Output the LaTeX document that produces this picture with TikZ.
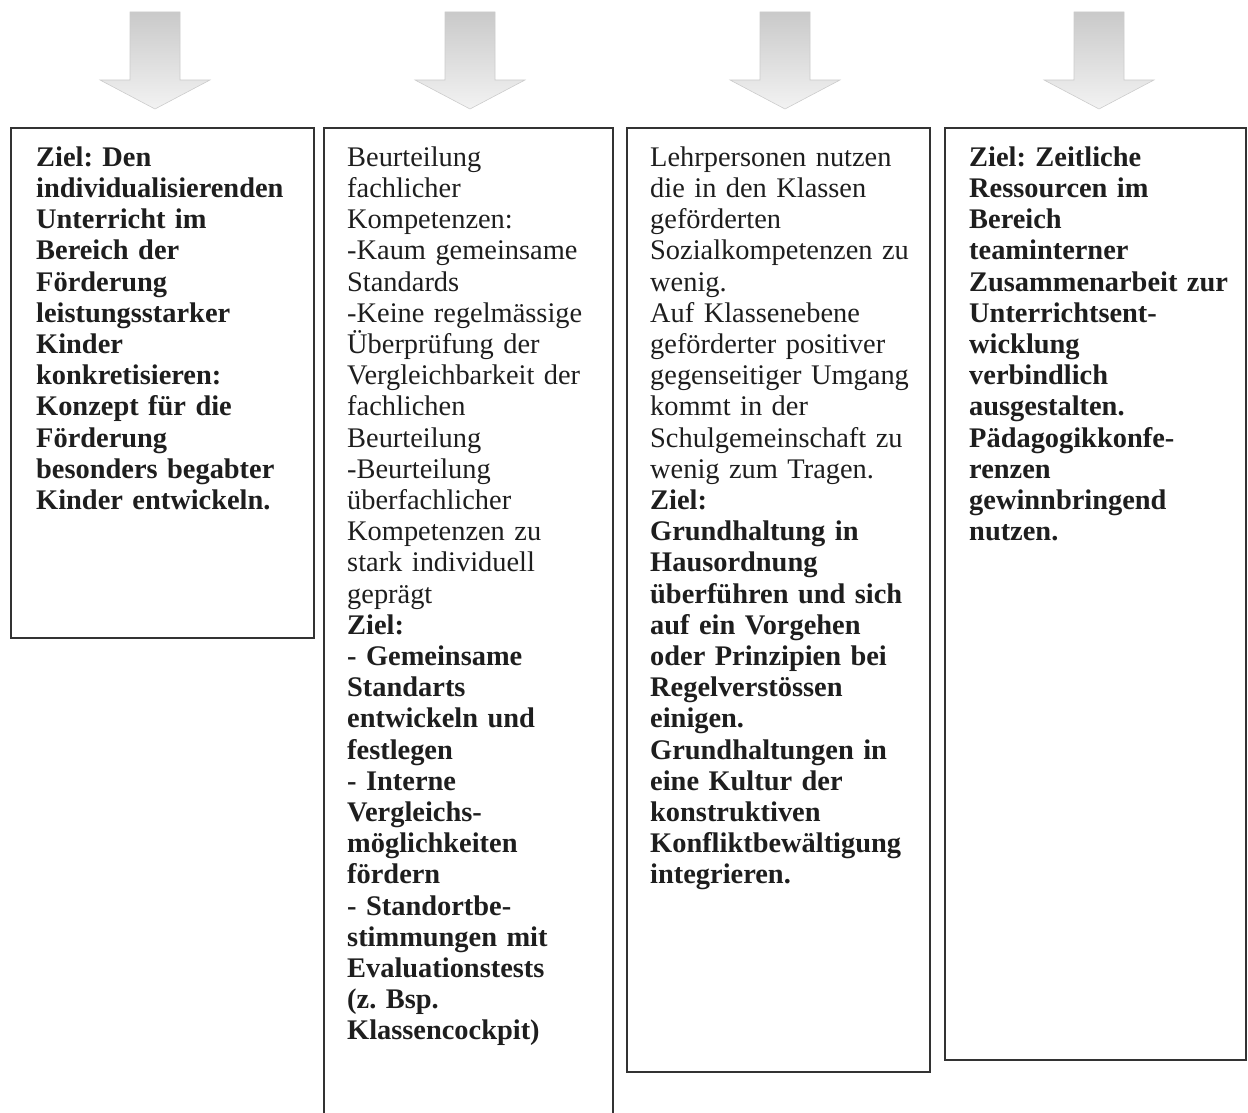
\documentclass[tikz,border=0pt]{standalone}
\usepackage{fontspec}
\setmainfont{Liberation Serif}
\frenchspacing
\definecolor{ink}{HTML}{1E1E1E}
\definecolor{boxline}{HTML}{333333}
\tikzset{
  panel/.style={draw=boxline, line width=1.8pt, inner sep=0pt, anchor=north west, rectangle},
  txt/.style={anchor=north west, inner sep=0pt, align=left, text width=300pt, text=ink,
    font=\fontsize{28.4}{31.2}\selectfont},
  blockarrow/.style={draw=gray!40, line width=0.6pt, top color=gray!42, bottom color=gray!10}
}
\begin{document}
\begin{tikzpicture}[x=1pt,y=-1pt]
\useasboundingbox (0,0) rectangle (1248,1113);
% block arrows
\foreach \c/\n in {155/a1,470/a2,785/a3,1099/a4}{
  \path[blockarrow] (\c-25,12) -- (\c+25,12) -- (\c+25,80) -- (\c+55,80) -- (\c,109)
     -- (\c-55,80) -- (\c-25,80) -- cycle;
}
% boxes
\node[panel, minimum width=303pt, minimum height=510pt] (b1) at (10,127) {};
\node[panel, minimum width=289pt, minimum height=1010pt] (b2) at (323,127) {};
\node[panel, minimum width=303pt, minimum height=944pt] (b3) at (626,127) {};
\node[panel, minimum width=301pt, minimum height=932pt] (b4) at (944,127) {};
% texts
\node[txt] (t1) at (36,144.2) {\strut\bfseries Ziel: Den\\ individualisierenden\\ Unterricht im\\ Bereich der\\ Förderung\\ leistungsstarker\\ Kinder\\ konkretisieren:\\ Konzept für die\\ Förderung\\ besonders begabter\\ Kinder entwickeln.};
\node[txt] (t2) at (347,144.2) {\strut Beurteilung\\ fachlicher\\ Kompetenzen:\\ -Kaum gemeinsame\\ Standards\\ -Keine regelmässige\\ Überprüfung der\\ Vergleichbarkeit der\\ fachlichen\\ Beurteilung\\ -Beurteilung\\ überfachlicher\\ Kompetenzen zu\\ stark individuell\\ geprägt\\ \textbf{Ziel:}\\ \textbf{- Gemeinsame}\\ \textbf{Standarts}\\ \textbf{entwickeln und}\\ \textbf{festlegen}\\ \textbf{- Interne}\\ \textbf{Vergleichs-}\\ \textbf{möglichkeiten}\\ \textbf{fördern}\\ \textbf{- Standortbe-}\\ \textbf{stimmungen mit}\\ \textbf{Evaluationstests}\\ \textbf{(z. Bsp.}\\ \textbf{Klassencockpit)}};
\node[txt] (t3) at (650,144.2) {\strut Lehrpersonen nutzen\\ die in den Klassen\\ geförderten\\ Sozialkompetenzen zu\\ wenig.\\ Auf Klassenebene\\ geförderter positiver\\ gegenseitiger Umgang\\ kommt in der\\ Schulgemeinschaft zu\\ wenig zum Tragen.\\ \textbf{Ziel:}\\ \textbf{Grundhaltung in}\\ \textbf{Hausordnung}\\ \textbf{überführen und sich}\\ \textbf{auf ein Vorgehen}\\ \textbf{oder Prinzipien bei}\\ \textbf{Regelverstössen}\\ \textbf{einigen.}\\ \textbf{Grundhaltungen in}\\ \textbf{eine Kultur der}\\ \textbf{konstruktiven}\\ \textbf{Konfliktbewältigung}\\ \textbf{integrieren.}};
\node[txt] (t4) at (969,144.2) {\strut\bfseries Ziel: Zeitliche\\ Ressourcen im\\ Bereich\\ teaminterner\\ Zusammenarbeit zur\\ Unterrichtsent-\\ wicklung\\ verbindlich\\ ausgestalten.\\ Pädagogikkonfe-\\ renzen\\ gewinnbringend\\ nutzen.};
\end{tikzpicture}
\end{document}
